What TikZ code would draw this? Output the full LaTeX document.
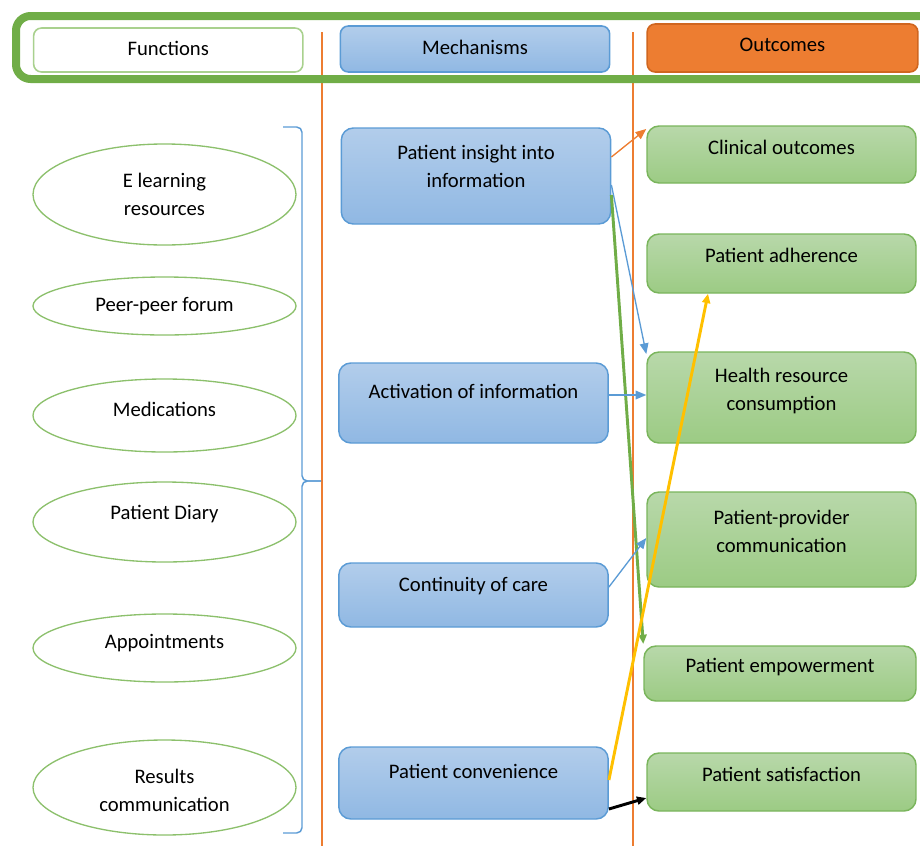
\documentclass[tikz,border=0pt]{standalone}
\usepackage{fontspec}
\setmainfont{Carlito}
\usetikzlibrary{arrows.meta,shapes.geometric}

\definecolor{framegreen}{HTML}{70AD47}
\definecolor{funcgreen}{HTML}{A9D18E}
\definecolor{ellgreen}{HTML}{8CC06C}
\definecolor{mechblue}{HTML}{5B9BD5}
\definecolor{mechtop}{HTML}{B2CDEB}
\definecolor{mechbottom}{HTML}{90B8E3}
\definecolor{outgreen}{HTML}{7AB55C}
\definecolor{outtop}{HTML}{B8D8AA}
\definecolor{outbottom}{HTML}{9CCB84}
\definecolor{outorange}{HTML}{ED7D31}
\definecolor{outorangedark}{HTML}{D0661F}
\definecolor{arrowyellow}{HTML}{FFC000}

% text sits a little above the middle of its box
\newcommand{\lifted}[2]{\raisebox{#1}[\height][\depth]{#2}}

\begin{document}
\begin{tikzpicture}[x=0.75pt, y=-0.75pt,
  font=\fontsize{15.5}{21}\selectfont,
  headbox/.style={rounded corners=6pt, line width=1.2pt, minimum width=202pt, inner sep=0pt},
  mechbox/.style={draw=mechblue, line width=1.1pt, rounded corners=9pt, top color=mechtop, bottom color=mechbottom, minimum width=202pt, align=center, inner sep=0pt},
  outbox/.style={draw=outgreen, line width=1.1pt, rounded corners=9pt, top color=outtop, bottom color=outbottom, minimum width=201.75pt, align=center, inner sep=0pt},
  funcellipse/.style={ellipse, draw=ellgreen, line width=1pt, minimum width=197.25pt, align=center, inner sep=0pt},
  thinarrow/.style={line width=1pt, -{Triangle[length=8pt,width=6.5pt]}},
  thickarrow/.style={line width=2.2pt, -{Triangle[length=7pt,width=6pt]}}]

  \useasboundingbox (0,0) rectangle (920,846);

  % column dividers
  \draw[outorange, line width=1.1pt] (322,32) -- (322,846);
  \draw[outorange, line width=1.1pt] (633,32) -- (633,846);

  % header frame
  \draw[framegreen, line width=6pt, rounded corners=11pt] (16,16) rectangle (980,79);

  % headers
  \node[headbox, draw=funcgreen, fill=white, minimum height=33pt] (functions) at (168.25,50) {\lifted{1.5pt}{Functions}};
  \node[headbox, draw=mechblue, top color=mechtop, bottom color=mechbottom, minimum height=34.5pt] (mechanisms) at (475,49) {\lifted{1.5pt}{Mechanisms}};
  \node[headbox, draw=outorangedark, fill=outorange, minimum width=203pt, minimum height=36pt] (outcomes) at (782.5,48) {\lifted{2pt}{Outcomes}};

  % functions
  \node[funcellipse, minimum height=75.75pt] (elearning) at (164.5,194.5) {E learning\\resources};
  \node[funcellipse, minimum height=43.5pt] (forum) at (164.5,306) {Peer-peer forum};
  \node[funcellipse, minimum height=54.75pt] (medications) at (164.5,415.5) {\lifted{4.5pt}{Medications}};
  \node[funcellipse, minimum height=60pt] (diary) at (164.5,522) {\lifted{6pt}{Patient Diary}};
  \node[funcellipse, minimum height=51pt] (appointments) at (164.5,648) {\lifted{3.5pt}{Appointments}};
  \node[funcellipse, minimum height=71.25pt] (results) at (164.5,787.5) {\lifted{-2.5pt}{Results}\\\lifted{-2.5pt}{communication}};

  % brace
  \draw[mechblue, line width=1.1pt, rounded corners=4pt] (283,127) -| (302,481) -- (321,481);
  \draw[mechblue, line width=1.1pt, rounded corners=4pt] (283,833) -| (302,481) -- (321,481);

  % mechanisms
  \node[mechbox, minimum height=72pt] (insight) at (476,176) {\lifted{7pt}{Patient insight into}\\\lifted{7pt}{information}};
  \node[mechbox, minimum height=60pt] (activation) at (473.5,403) {\lifted{9pt}{Activation of information}};
  \node[mechbox, minimum height=48pt] (continuity) at (473.5,595) {\lifted{7pt}{Continuity of care}};
  \node[mechbox, minimum height=54pt] (convenience) at (473.5,783) {\lifted{9pt}{Patient convenience}};

  % outcomes
  \node[outbox, minimum height=42.75pt] (clinical) at (781.5,154.5) {\lifted{5pt}{Clinical outcomes}};
  \node[outbox, minimum height=44.25pt] (adherence) at (781.5,263.5) {\lifted{6pt}{Patient adherence}};
  \node[outbox, minimum height=68.25pt] (resource) at (781.5,397.5) {\lifted{5pt}{Health resource}\\\lifted{5pt}{consumption}};
  \node[outbox, minimum height=71.25pt] (provider) at (781.5,539.5) {\lifted{6pt}{Patient-provider}\\\lifted{6pt}{communication}};
  \node[outbox, minimum height=41.25pt, minimum width=204pt] (empowerment) at (780,673.5) {\lifted{5pt}{Patient empowerment}};
  \node[outbox, minimum height=43.5pt] (satisfaction) at (781.5,782) {\lifted{6pt}{Patient satisfaction}};

  % links
  \draw[thinarrow, outorange] (insight.east |- 0,157) -- (clinical.west |- 0,129);
  \draw[thinarrow, mechblue] (insight.east |- 0,185) -- (resource.west |- 0,354);
  \draw[thickarrow, framegreen] (insight.east |- 0,195) -- (empowerment.west |- 0,644);
  \draw[thinarrow, mechblue] (activation.east |- 0,395) -- (resource.west |- 0,395);
  \draw[thinarrow, mechblue] (continuity.east |- 0,587) -- (provider.west |- 0,538);
  \draw[thickarrow, arrowyellow] (convenience.east |- 0,780) -- (adherence.south -| 708,0);
  \draw[thickarrow, black] (convenience.east |- 0,809) -- (satisfaction.west |- 0,798);
\end{tikzpicture}
\end{document}
